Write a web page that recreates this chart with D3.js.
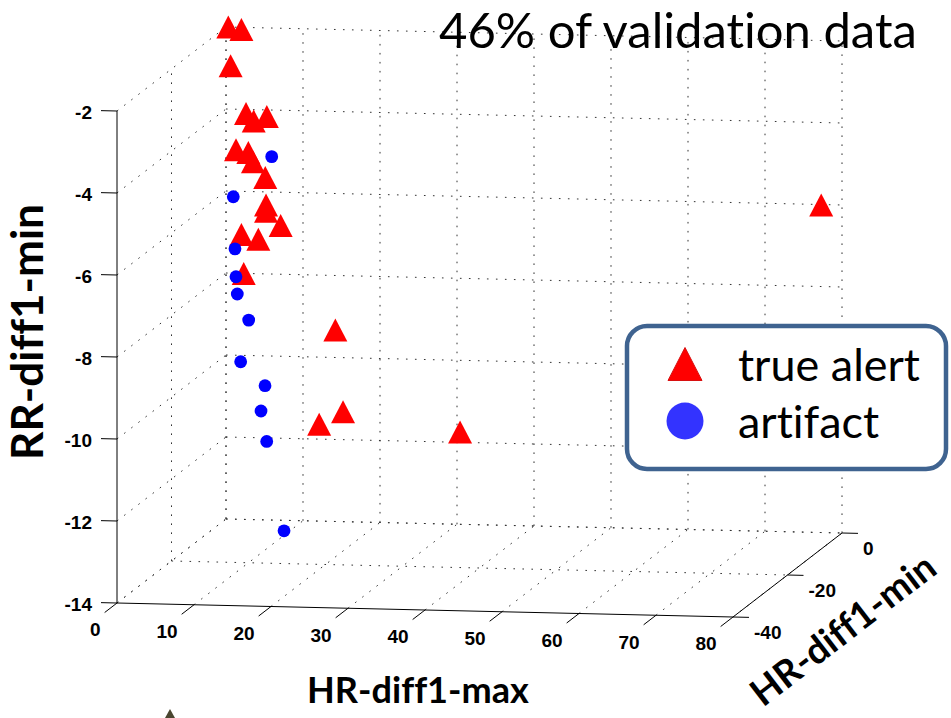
<!DOCTYPE html>
<html>
<head>
<meta charset="utf-8">
<script src="https://cdn.jsdelivr.net/npm/d3@7/dist/d3.min.js"></script>
<style>
  html, body { margin: 0; padding: 0; background: #fff; }
  svg { display: block; }
  text { font-variant-ligatures: none; font-feature-settings: "liga" 0, "clig" 0; }
</style>
</head>
<body>
<svg id="chart" width="951" height="718"></svg>
<script>
// ---------------- data ----------------
const xTicks = [0, 10, 20, 30, 40, 50, 60, 70, 80];      // HR-diff1-max
const yTicks = [-40, -20, 0];                            // HR-diff1-min
const zTicks = [-14, -12, -10, -8, -6, -4, -2];          // RR-diff1-min

// true alert (red triangles)
const alertHRmax = [0.3, 2.0, 0.6, 2.6, 3.6, 5.3, 1.3, 2.9, 3.5, 5.1, 5.2, 5.2, 7.1, 2.0, 4.2, 2.3, 14.2, 12.1, 15.2, 30.4, 77.3];
const alertHRmin = [0, 0, 0, 0, 0, 0, 0, 0, 0, 0, 0, 0, 0, 0, 0, 0, 0, 0, 0, 0, 0];
const alertRRmin = [-2.0, -2.05, -2.94, -4.10, -4.28, -4.16, -4.99, -5.05, -5.27, -5.65, -6.32, -6.47, -6.81, -7.05, -7.16, -8.0, -9.33, -11.64, -11.32, -11.75, -6.01];

// artifact (blue circles)
const artHRmax = [8.06, 3.07, 3.29, 3.42, 3.59, 5.07, 4.03, 7.19, 6.67, 7.41, 9.66];
const artHRmin = [-6, -6, -6, -6, -6, -6, -6, -6, -6, -6, -6];
const artRRmin = [-4.82, -5.82, -7.09, -7.77, -8.19, -8.82, -9.84, -10.41, -11.03, -11.77, -13.94];

const titleText = "46% of validation data";
const legendLabels = ["true alert", "artifact"];
const xLabel = "HR-diff1-max", yLabel = "HR-diff1-min", zLabel = "RR-diff1-min";

// ---------------- projection (orthographic 3D view) ----------------
const xScale = d3.scaleLinear().domain([0, 80]).range([0, 1]);
const yScale = d3.scaleLinear().domain([-40, 0]).range([0, 1]);
const zScale = d3.scaleLinear().domain([-14, -2]).range([0, 1]);
const O  = [117, 603];      // screen position of (0,-40,-14)
const XV = [616, 14];       // screen vector spanning the x range
const YV = [109, -84];      // screen vector spanning the y range
const ZV = [0, -492];       // screen vector spanning the z range
function P(x, y, z) {
  const fx = xScale(x), fy = yScale(y), fz = zScale(z);
  return [O[0] + fx * XV[0] + fy * YV[0] + fz * ZV[0],
          O[1] + fx * XV[1] + fy * YV[1] + fz * ZV[1]];
}

const svg = d3.select("#chart");
const gridG = svg.append("g");
const gridColor = "#333";
function seg(g, a, b, dotted) {
  g.append("line")
    .attr("x1", a[0]).attr("y1", a[1]).attr("x2", b[0]).attr("y2", b[1])
    .attr("stroke", dotted ? gridColor : "#000")
    .attr("stroke-width", 1)
    .attr("stroke-dasharray", dotted ? "1.6,7.4" : null);
}
const [x0, x1] = xScale.domain(), [y0, y1] = yScale.domain(), [z0, z1] = zScale.domain();

// back wall (y = max)
xTicks.forEach(x => seg(gridG, P(x, y1, z0), P(x, y1, z1), true));
zTicks.forEach(z => seg(gridG, P(x0, y1, z), P(x1, y1, z), true));
// left wall (x = min)
yTicks.forEach(y => { if (y !== y0) seg(gridG, P(x0, y, z0), P(x0, y, z1), true); });
zTicks.forEach(z => seg(gridG, P(x0, y0, z), P(x0, y1, z), true));
// floor (z = min)
xTicks.forEach(x => seg(gridG, P(x, y0, z0), P(x, y1, z0), true));
yTicks.forEach(y => { if (y !== y0) seg(gridG, P(x0, y, z0), P(x1, y, z0), true); });

// ---------------- axes ----------------
const axG = svg.append("g");
const tickFont = "'Liberation Sans', Arial, sans-serif";
function unit(v, len) { const L = Math.hypot(v[0], v[1]); return [v[0] / L * len, v[1] / L * len]; }
const xTickV = unit([-YV[0], -YV[1]], 15.6);
const yTickV = unit(XV, 16);
const zTickV = unit([-XV[0], -XV[1]], 16);

// x axis
seg(axG, P(x0, y0, z0), P(x1, y0, z0), false);
xTicks.forEach(x => {
  const a = P(x, y0, z0), b = [a[0] + xTickV[0], a[1] + xTickV[1]];
  seg(axG, a, b, false);
  axG.append("text").attr("x", b[0] - 4).attr("y", b[1] + 17).attr("dy", "0.36em")
    .attr("text-anchor", "end").attr("font-family", tickFont).attr("font-weight", "bold")
    .attr("font-size", 19).text(x);
});
// y axis
seg(axG, P(x1, y0, z0), P(x1, y1, z0), false);
yTicks.forEach(y => {
  const a = P(x1, y, z0), b = [a[0] + yTickV[0], a[1] + yTickV[1]];
  seg(axG, a, b, false);
  axG.append("text").attr("x", b[0] + 5).attr("y", a[1] + 15).attr("dy", "0.36em")
    .attr("text-anchor", "start").attr("font-family", tickFont).attr("font-weight", "bold")
    .attr("font-size", 19).text(y);
});
// z axis
seg(axG, P(x0, y0, z0), P(x0, y0, z1), false);
zTicks.forEach(z => {
  const a = P(x0, y0, z), b = [a[0] + zTickV[0], a[1] + zTickV[1]];
  seg(axG, a, b, false);
  axG.append("text").attr("x", b[0] - 9).attr("y", a[1] + 1).attr("dy", "0.36em")
    .attr("text-anchor", "end").attr("font-family", tickFont).attr("font-weight", "bold")
    .attr("font-size", 19).text(z);
});

// ---------------- markers ----------------
const triW = 24, triH = 23, circR = 6.4;
const triPath = (w, h) => `M0,${-h / 2}L${w / 2},${h / 2}L${-w / 2},${h / 2}Z`;
const alerts = alertHRmax.map((v, i) => ({ x: v, y: alertHRmin[i], z: alertRRmin[i] }));
const arts = artHRmax.map((v, i) => ({ x: v, y: artHRmin[i], z: artRRmin[i] }));

svg.append("g").selectAll("path").data(alerts).join("path")
  .attr("d", triPath(triW, triH))
  .attr("transform", d => { const p = P(d.x, d.y, d.z); return `translate(${p[0]},${p[1]})`; })
  .attr("fill", "#ff0000");
svg.append("g").selectAll("circle").data(arts).join("circle")
  .attr("cx", d => P(d.x, d.y, d.z)[0]).attr("cy", d => P(d.x, d.y, d.z)[1])
  .attr("r", circR).attr("fill", "#0000ff");

// ---------------- labels ----------------
const labFont = "Lato, 'Open Sans', sans-serif";
function fit(sel, target) {
  const w = sel.node().getComputedTextLength();
  const fs = parseFloat(sel.attr("font-size"));
  sel.attr("font-size", fs * target / w);
  return fs * target / w;
}
const xl = svg.append("text").attr("x", 418).attr("y", 703).attr("text-anchor", "middle")
  .attr("font-family", labFont).attr("font-weight", "bold").attr("font-size", 30).text(xLabel);
fit(xl, 222);
const zl = svg.append("text").attr("transform", "translate(43,332) rotate(-90)").attr("text-anchor", "middle")
  .attr("font-family", labFont).attr("font-weight", "bold").attr("font-size", 30).text(zLabel);
fit(zl, 256);
const ang = Math.atan2(YV[1], YV[0]) * 180 / Math.PI;
const yl = svg.append("text").attr("transform", `translate(851,640) rotate(${ang})`).attr("text-anchor", "middle")
  .attr("font-family", labFont).attr("font-weight", "bold").attr("font-size", 30).text(yLabel);
fit(yl, 222);

const tt = svg.append("text").attr("x", 439).attr("y", 48).attr("text-anchor", "start")
  .attr("font-family", labFont).attr("font-size", 40).attr("fill", "#000").text(titleText);
fit(tt, 478);

// ---------------- legend ----------------
const lg = svg.append("g");
lg.append("rect").attr("x", 627).attr("y", 326).attr("width", 319).attr("height", 143)
  .attr("rx", 20).attr("ry", 20).attr("fill", "#fff").attr("stroke", "#3f6390").attr("stroke-width", 4.5);
lg.append("path").attr("d", triPath(34, 33)).attr("transform", "translate(685,364)")
  .attr("fill", "#ff0000").attr("stroke", "#d81010").attr("stroke-width", 1);
lg.append("circle").attr("cx", 685).attr("cy", 421).attr("r", 18.5).attr("fill", "#3333ff");
const l1 = lg.append("text").attr("x", 738).attr("y", 381).attr("font-family", labFont)
  .attr("font-size", 38).text(legendLabels[0]);
const ls = fit(l1, 182);
lg.append("text").attr("x", 738).attr("y", 438).attr("font-family", labFont)
  .attr("font-size", ls).text(legendLabels[1]);

// small cropped artifact at the bottom edge
svg.append("path").attr("d", "M170,709L175,718L165,718Z").attr("fill", "#4a4630");
</script>
</body>
</html>
